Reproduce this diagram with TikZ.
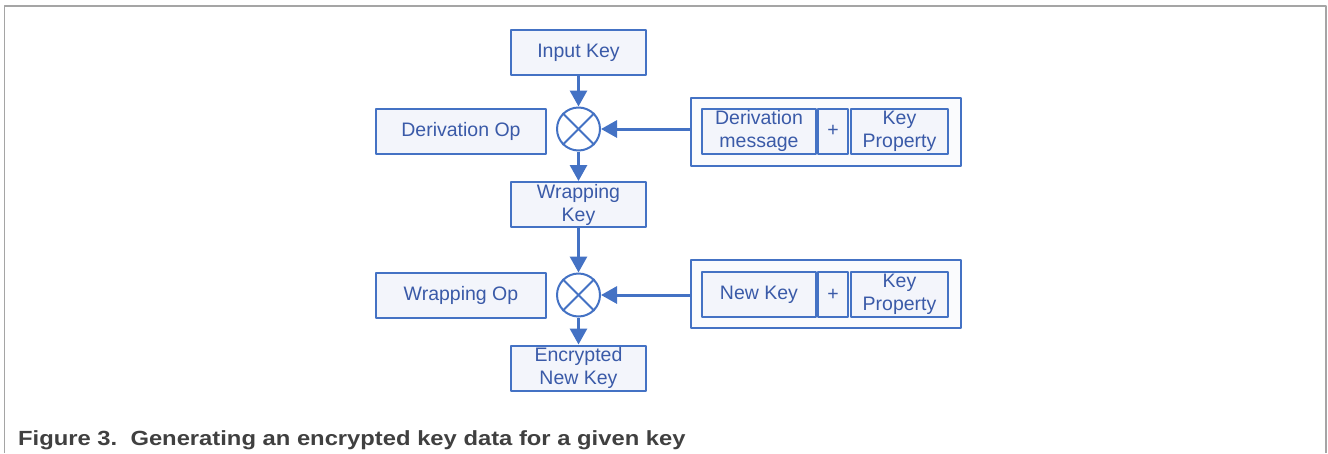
\documentclass[tikz,border=0pt]{standalone}
\usepackage{fontspec}
\setmainfont{Liberation Sans}
\usetikzlibrary{arrows.meta}
\definecolor{boxblue}{RGB}{68,114,196}
\definecolor{txtblue}{RGB}{58,90,168}
\definecolor{boxfill}{RGB}{243,245,251}
\definecolor{capgray}{RGB}{64,64,64}
\definecolor{framegray}{RGB}{165,165,165}
\begin{document}
\begin{tikzpicture}[x=1pt, y=-1pt, line join=round, >={Triangle[width=17pt,length=16pt]},
		box/.style={draw=boxblue, line width=2pt, fill=boxfill, text=txtblue, align=center, inner sep=0pt,
			font=\fontsize{19.5}{23}\selectfont, minimum height=45pt},
		group/.style={draw=boxblue, line width=2pt, fill=boxfill!40, inner sep=0pt},
		mixer/.style={draw=boxblue, line width=2pt, fill=white, circle, minimum size=43pt, inner sep=0pt},
		flow/.style={draw=boxblue, line width=3pt, ->}]
	\useasboundingbox (0,0) rectangle (1328,453);
	\draw[framegray, line width=1.5pt] (4.5,453) -- (4.5,6) -- (1326,6) -- (1326,453);
	% main column
	\node[box, minimum width=135pt] (inputkey) at (578.5,52.5) {Input Key};
	\node[mixer] (mix1) at (578.5,129) {};
	\node[box, minimum width=135pt] (wrapkey) at (578.5,204.5) {Wrapping\\Key};
	\node[mixer] (mix2) at (578.5,295) {};
	\node[box, minimum width=135pt] (enckey) at (578.5,368) {Encrypted\\New Key};
	% operations
	\node[box, minimum width=170pt] (derivop) at (461,131.5) {Derivation Op};
	\node[box, minimum width=170pt] (wrapop) at (461,295) {Wrapping Op};
	% inputs
	\node[group, minimum width=270pt, minimum height=68pt] (input1) at (825.5,131.5) {};
	\node[box, minimum width=114pt] (derivmsg) at (759,131) {Derivation\\message};
	\node[box, minimum width=30pt] (plus1) at (833,131) {+};
	\node[box, minimum width=97pt] (keyprop1) at (899.5,131) {Key\\Property};
	\node[group, minimum width=270pt, minimum height=68pt] (input2) at (825.5,294) {};
	\node[box, minimum width=114pt] (newkey) at (759,294.5) {New Key};
	\node[box, minimum width=30pt] (plus2) at (833,294.5) {+};
	\node[box, minimum width=97pt] (keyprop2) at (899.5,294.5) {Key\\Property};
	\foreach \m in {mix1,mix2}{
		\draw[boxblue, line width=2pt] (\m.north west) -- (\m.south east);
		\draw[boxblue, line width=2pt] (\m.north east) -- (\m.south west);
	}
	% arrows
	\draw[flow] (inputkey) -- (mix1);
	\draw[flow] (mix1) -- (wrapkey);
	\draw[flow] (wrapkey) -- (mix2);
	\draw[flow] (mix2) -- (enckey);
	\draw[flow] (input1.west |- mix1) -- (mix1);
	\draw[flow] (input2.west |- mix2) -- (mix2);
	% caption
	\node[anchor=base west, inner sep=0pt, text=capgray, font=\fontsize{20.5}{24}\selectfont\bfseries] (caption) at (18,445)
		{\scalebox{1.16}[1]{Figure 3.\ \ Generating an encrypted key data for a given key}};
\end{tikzpicture}
\end{document}
